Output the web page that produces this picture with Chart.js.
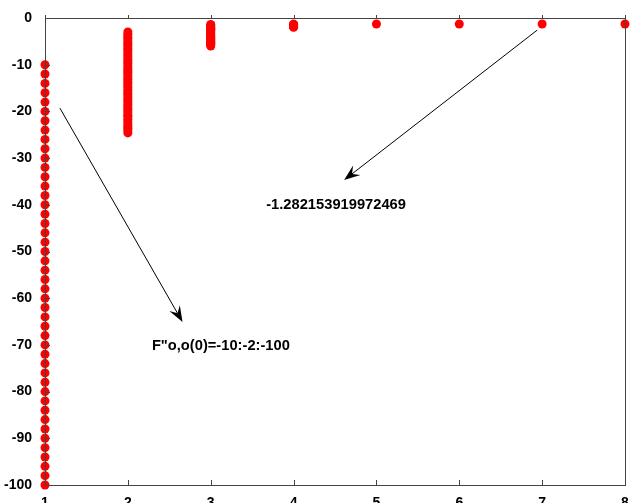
<!DOCTYPE html>
<html>
<head>
<meta charset="utf-8">
<script src="https://cdn.jsdelivr.net/npm/chart.js@4.4.0/dist/chart.umd.min.js"></script>
<style>
  body { margin: 0; background: #fff; }
</style>
</head>
<body>
<canvas id="chart" width="630" height="503"></canvas>
<script>
// iteration number on x, iterate value on y
const iterations = [1, 2, 3, 4, 5, 6, 7, 8];

const iter1 = [-10, -12, -14, -16, -18, -20, -22, -24, -26, -28,
  -30, -32, -34, -36, -38, -40, -42, -44, -46, -48,
  -50, -52, -54, -56, -58, -60, -62, -64, -66, -68,
  -70, -72, -74, -76, -78, -80, -82, -84, -86, -88,
  -90, -92, -94, -96, -98, -100];
const iter2 = [-3.0, -3.5, -4.0, -4.4, -4.9, -5.4, -5.9, -6.4, -6.8, -7.3,
  -7.8, -8.3, -8.8, -9.2, -9.7, -10.2, -10.7, -11.2, -11.6, -12.1,
  -12.6, -13.1, -13.6, -14.0, -14.5, -15.0, -15.5, -16.0, -16.4, -16.9,
  -17.4, -17.9, -18.4, -18.8, -19.3, -19.8, -20.3, -20.8, -21.2, -21.7,
  -22.2, -22.7, -23.2, -23.6, -24.1, -24.6];
const iter3 = [-1.4, -1.6, -1.8, -2.0, -2.2, -2.4, -2.6, -2.8, -3.0, -3.2,
  -3.4, -3.6, -3.8, -4.0, -4.2, -4.4, -4.6, -4.8, -5.0, -5.2,
  -5.4, -5.6, -5.8, -6.0];
const iter4 = [-1.3, -1.4, -1.5, -1.6, -1.7, -1.8, -1.9, -2.0];
const iter5 = [-1.282];
const iter6 = [-1.282];
const iter7 = [-1.282];
const iter8 = [-1.282];

const allIters = [iter1, iter2, iter3, iter4, iter5, iter6, iter7, iter8];

const xTicks = [1, 2, 3, 4, 5, 6, 7, 8];
const yTicks = [0, -10, -20, -30, -40, -50, -60, -70, -80, -90, -100];

const labelStart = "F\"o,o(0)=-10:-2:-100";
const labelRoot = "-1.282153919972469";

const points = [];
allIters.forEach((vals, i) => {
  vals.forEach((v) => points.push({ x: iterations[i], y: v }));
});

const FONT = "bold 14.7px 'Liberation Sans', Arial, sans-serif";

// box, ticks, arrows and texts
const framePlugin = {
  id: "frame",
  afterDatasetsDraw(chart) {
    const ctx = chart.ctx;
    const a = chart.chartArea;
    const xs = chart.scales.x;
    const ys = chart.scales.y;
    ctx.save();
    ctx.strokeStyle = "#444";
    ctx.lineWidth = 1;
    ctx.strokeRect(Math.round(a.left) + 0.5, Math.round(a.top) + 0.5,
      Math.round(a.right - a.left), Math.round(a.bottom - a.top));
    ctx.beginPath();
    xTicks.forEach((t) => {
      const px = Math.round(xs.getPixelForValue(t)) + 0.5;
      ctx.moveTo(px, a.bottom); ctx.lineTo(px, a.bottom - 5);
      ctx.moveTo(px, a.top); ctx.lineTo(px, a.top - 3);
    });
    yTicks.forEach((t) => {
      const py = Math.round(ys.getPixelForValue(t)) + 0.5;
      ctx.moveTo(a.left, py); ctx.lineTo(a.left + 5, py);
    });
    ctx.stroke();

    function arrow(x0, y0, x1, y1) {
      const p0x = xs.getPixelForValue(x0), p0y = ys.getPixelForValue(y0);
      const p1x = xs.getPixelForValue(x1), p1y = ys.getPixelForValue(y1);
      const ang = Math.atan2(p1y - p0y, p1x - p0x);
      ctx.strokeStyle = "#000";
      ctx.lineWidth = 1;
      ctx.beginPath();
      ctx.moveTo(p0x, p0y);
      ctx.lineTo(p1x - 10 * Math.cos(ang), p1y - 10 * Math.sin(ang));
      ctx.stroke();
      const len = 16, half = 6, notch = 10;
      ctx.fillStyle = "#000";
      ctx.beginPath();
      ctx.moveTo(p1x, p1y);
      ctx.lineTo(p1x - len * Math.cos(ang) + half * Math.sin(ang),
        p1y - len * Math.sin(ang) - half * Math.cos(ang));
      ctx.lineTo(p1x - notch * Math.cos(ang), p1y - notch * Math.sin(ang));
      ctx.lineTo(p1x - len * Math.cos(ang) - half * Math.sin(ang),
        p1y - len * Math.sin(ang) + half * Math.cos(ang));
      ctx.closePath();
      ctx.fill();
    }
    arrow(1.18, -19.3, 2.66, -65.1);
    arrow(6.94, -2.6, 4.61, -34.7);

    ctx.font = FONT;
    ctx.fillStyle = "#000";
    ctx.textBaseline = "middle";
    ctx.textAlign = "left";
    ctx.fillText(labelStart, xs.getPixelForValue(2.29), ys.getPixelForValue(-70.2));
    ctx.fillText(labelRoot, xs.getPixelForValue(3.67), ys.getPixelForValue(-40.1));
    ctx.restore();
  }
};

new Chart(document.getElementById("chart"), {
  type: "scatter",
  data: {
    datasets: [{
      data: points,
      backgroundColor: "#ff0000",
      borderColor: "#ff0000",
      borderWidth: 0,
      pointRadius: 4.5,
      pointHoverRadius: 4.5,
      clip: false
    }]
  },
  options: {
    responsive: false,
    devicePixelRatio: 1,
    animation: false,
    layout: { padding: { top: 18, right: 5, left: 0, bottom: 0 } },
    plugins: { legend: { display: false }, tooltip: { enabled: false } },
    scales: {
      x: {
        type: "linear",
        min: 1,
        max: 8,
        afterBuildTicks(s) { s.ticks = xTicks.map((v) => ({ value: v })); },
        afterFit(s) { s.height = 18; s.paddingLeft = 0; s.paddingRight = 0; },
        grid: { display: false },
        border: { display: false },
        ticks: { autoSkip: false, maxRotation: 0, padding: 2, color: "#000",
          font: { family: "'Liberation Sans', Arial", size: 14, weight: "bold" } }
      },
      y: {
        type: "linear",
        min: -100,
        max: 0,
        afterBuildTicks(s) { s.ticks = yTicks.map((v) => ({ value: v })); },
        afterFit(s) { s.width = 45; s.paddingTop = 0; s.paddingBottom = 0; },
        grid: { display: false },
        border: { display: false },
        ticks: { padding: 5, color: "#000",
          font: { family: "'Liberation Sans', Arial", size: 14, weight: "bold" } }
      }
    }
  },
  plugins: [framePlugin]
});
</script>
</body>
</html>
